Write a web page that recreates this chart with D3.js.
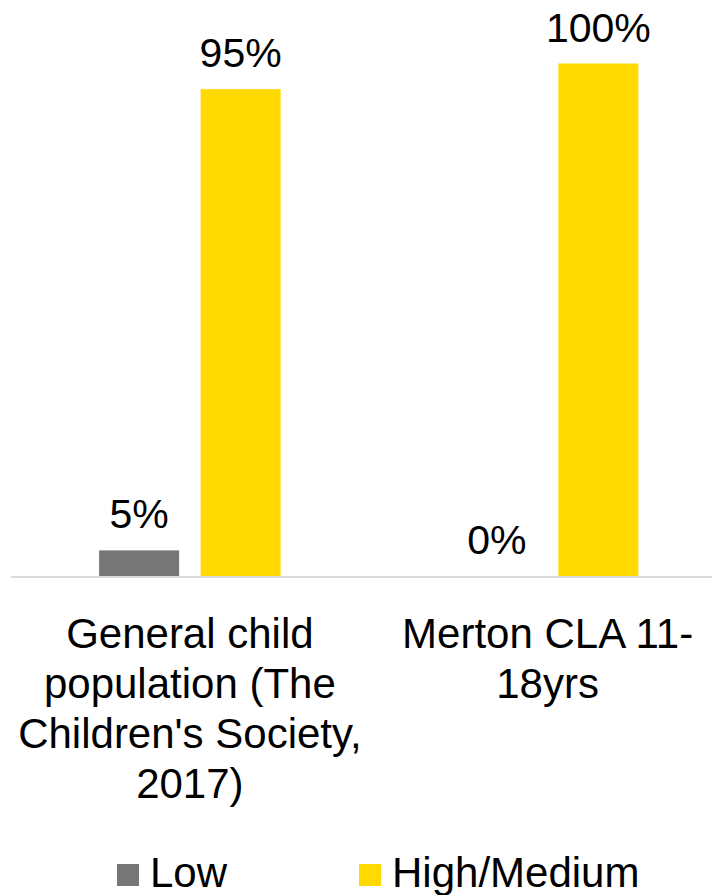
<!DOCTYPE html>
<html>
<head>
<meta charset="utf-8">
<script src="https://cdn.jsdelivr.net/npm/d3@7"></script>
<style>
  html, body { margin: 0; padding: 0; background: #fff; }
  svg { display: block; font-family: "Liberation Sans", Arial, sans-serif; }
</style>
</head>
<body>
<div id="chart"></div>
<script>
// Wellbeing level by group
const categories = [
  ["General child", "population (The", "Children's Society,", "2017)"],
  ["Merton CLA 11-", "18yrs"]
];
const categoryKeys = ["general", "merton"];
const seriesNames = ["Low", "High/Medium"];
const lowValues = [0.05, 0.00];
const highValues = [0.95, 1.00];
const seriesColors = ["#767676", "#ffd900"];

const width = 712, height = 895;

const svg = d3.select("#chart").append("svg")
  .attr("width", width)
  .attr("height", height);

const seriesValues = [lowValues, highValues];
const rows = categoryKeys.map((k, i) => ({
  key: k,
  lines: categories[i],
  values: seriesNames.map((s, j) => ({ series: s, value: seriesValues[j][i], color: seriesColors[j] }))
}));

const x0 = d3.scaleBand()
  .domain(categoryKeys)
  .range([11, 726.5])
  .padding(0);

const innerWidth = 181.5;
const x1 = d3.scaleBand()
  .domain(seriesNames)
  .range([0, innerWidth])
  .paddingInner(0.212)
  .paddingOuter(0);

const y = d3.scaleLinear()
  .domain([0, 1])
  .range([576, 63.5]);

// baseline
svg.append("line")
  .attr("x1", 11).attr("x2", width)
  .attr("y1", 577).attr("y2", 577)
  .attr("stroke", "#d9d9d9")
  .attr("stroke-width", 2);

const groups = svg.selectAll("g.group")
  .data(rows)
  .join("g")
  .attr("class", "group")
  .attr("transform", d => `translate(${x0(d.key) + x0.bandwidth() / 2 - innerWidth / 2},0)`);

groups.selectAll("rect")
  .data(d => d.values)
  .join("rect")
  .attr("x", d => x1(d.series))
  .attr("width", x1.bandwidth())
  .attr("y", d => y(d.value))
  .attr("height", d => y(0) - y(d.value))
  .attr("fill", d => d.color);

groups.selectAll("text.value")
  .data(d => d.values)
  .join("text")
  .attr("class", "value")
  .attr("x", d => x1(d.series) + x1.bandwidth() / 2)
  .attr("y", d => y(d.value) - 22)
  .attr("text-anchor", "middle")
  .attr("font-size", 41)
  .attr("fill", "#000")
  .text(d => d3.format(".0%")(d.value));

// category labels
const catLabels = svg.selectAll("text.cat")
  .data(rows)
  .join("text")
  .attr("class", "cat")
  .attr("text-anchor", "middle")
  .attr("font-size", 42)
  .attr("fill", "#000");

catLabels.selectAll("tspan")
  .data(d => d.lines.map(l => ({ line: l, key: d.key })))
  .join("tspan")
  .attr("x", d => x0(d.key) + x0.bandwidth() / 2)
  .attr("y", (d, i) => 648 + i * 50)
  .text(d => d.line);

// legend
const legendItems = [
  { name: seriesNames[0], color: seriesColors[0], x: 117 },
  { name: seriesNames[1], color: seriesColors[1], x: 359 }
];
const legend = svg.selectAll("g.legend")
  .data(legendItems)
  .join("g")
  .attr("class", "legend")
  .attr("transform", d => `translate(${d.x},864)`);

legend.append("rect")
  .attr("width", 22)
  .attr("height", 22)
  .attr("fill", d => d.color);

legend.append("text")
  .attr("x", 33)
  .attr("y", 23)
  .attr("font-size", 42)
  .attr("fill", "#000")
  .text(d => d.name);
</script>
</body>
</html>
